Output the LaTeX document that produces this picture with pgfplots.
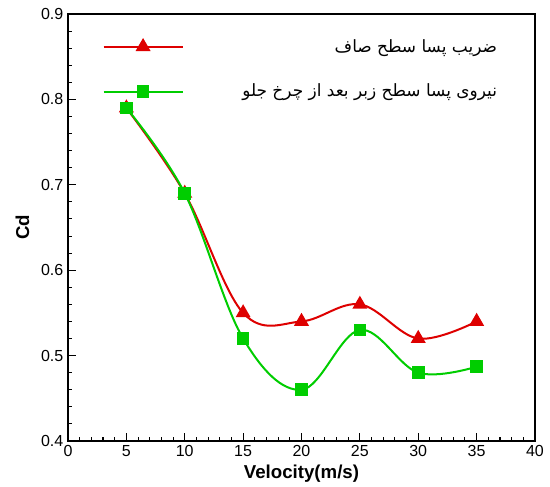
\documentclass[border=0pt]{standalone}
\usepackage{fontspec}
\setmainfont{Liberation Sans}
\newfontfamily\arabicfont[Script=Arabic]{DejaVu Sans}
\TeXXeTstate=1
\usepackage{pgfplots}
\pgfplotsset{compat=1.18}
\definecolor{cred}{RGB}{222,0,0}
\definecolor{cgreen}{RGB}{0,205,0}
\begin{document}
\begin{tikzpicture}
\useasboundingbox (-51pt,-33.75pt) rectangle (361.5pt,330.75pt);
\begin{axis}[
  at={(0pt,0pt)}, anchor=south west,
  scale only axis, width=350.25pt, height=320.25pt,
  xmin=0, xmax=40, ymin=0.4, ymax=0.9,
  xtick={0,5,...,40}, ytick={0.4,0.5,...,0.9},
  minor x tick num=4, minor y tick num=4,
  xtick pos=left, ytick pos=left, tick align=inside,
  major tick length=6pt, minor tick length=3pt,
  axis line style={line width=1pt}, every tick/.style={black, line width=0.8pt},
  /pgf/number format/assume math mode=true,
  yticklabel style={/pgf/number format/fixed,/pgf/number format/precision=1,/pgf/number format/fixed zerofill},
  tick label style={font=\fontsize{12}{14}\selectfont},
  xlabel={\textbf{Velocity(m/s)}}, ylabel={\textbf{Cd}},
  label style={font=\fontsize{14}{16}\selectfont},
  xlabel style={yshift=1pt}, ylabel style={yshift=2pt},
  legend cell align=right,
  legend style={draw=none, fill=none, at={(axis cs:2.6,0.877)}, anchor=north west,
    column sep=42pt, row sep=18.5pt, font=\fontsize{12.7}{14}\selectfont},
  legend image code/.code={\draw[#1,mark repeat=2,mark phase=2] plot coordinates {(0pt,0pt)(29.6pt,0pt)(59.25pt,0pt)};},
]
\addplot[cred, line width=1.5pt, smooth, tension=0.6, mark=triangle*, mark size=5pt, mark options={solid}]
  coordinates {(5,0.79)(10,0.69)(15,0.55)(20,0.54)(25,0.56)(30,0.52)(35,0.54)};
\addlegendentry{\arabicfont\beginR ضریب پسا سطح صاف\endR}
\addplot[cgreen, line width=1.5pt, smooth, tension=0.6, mark=square*, mark size=4pt, mark options={solid}]
  coordinates {(5,0.79)(10,0.69)(15,0.52)(20,0.46)(25,0.53)(30,0.48)(35,0.487)};
\addlegendentry{\arabicfont\beginR نیروی پسا سطح زبر بعد از چرخ جلو\endR}
\end{axis}
\end{tikzpicture}
\end{document}
